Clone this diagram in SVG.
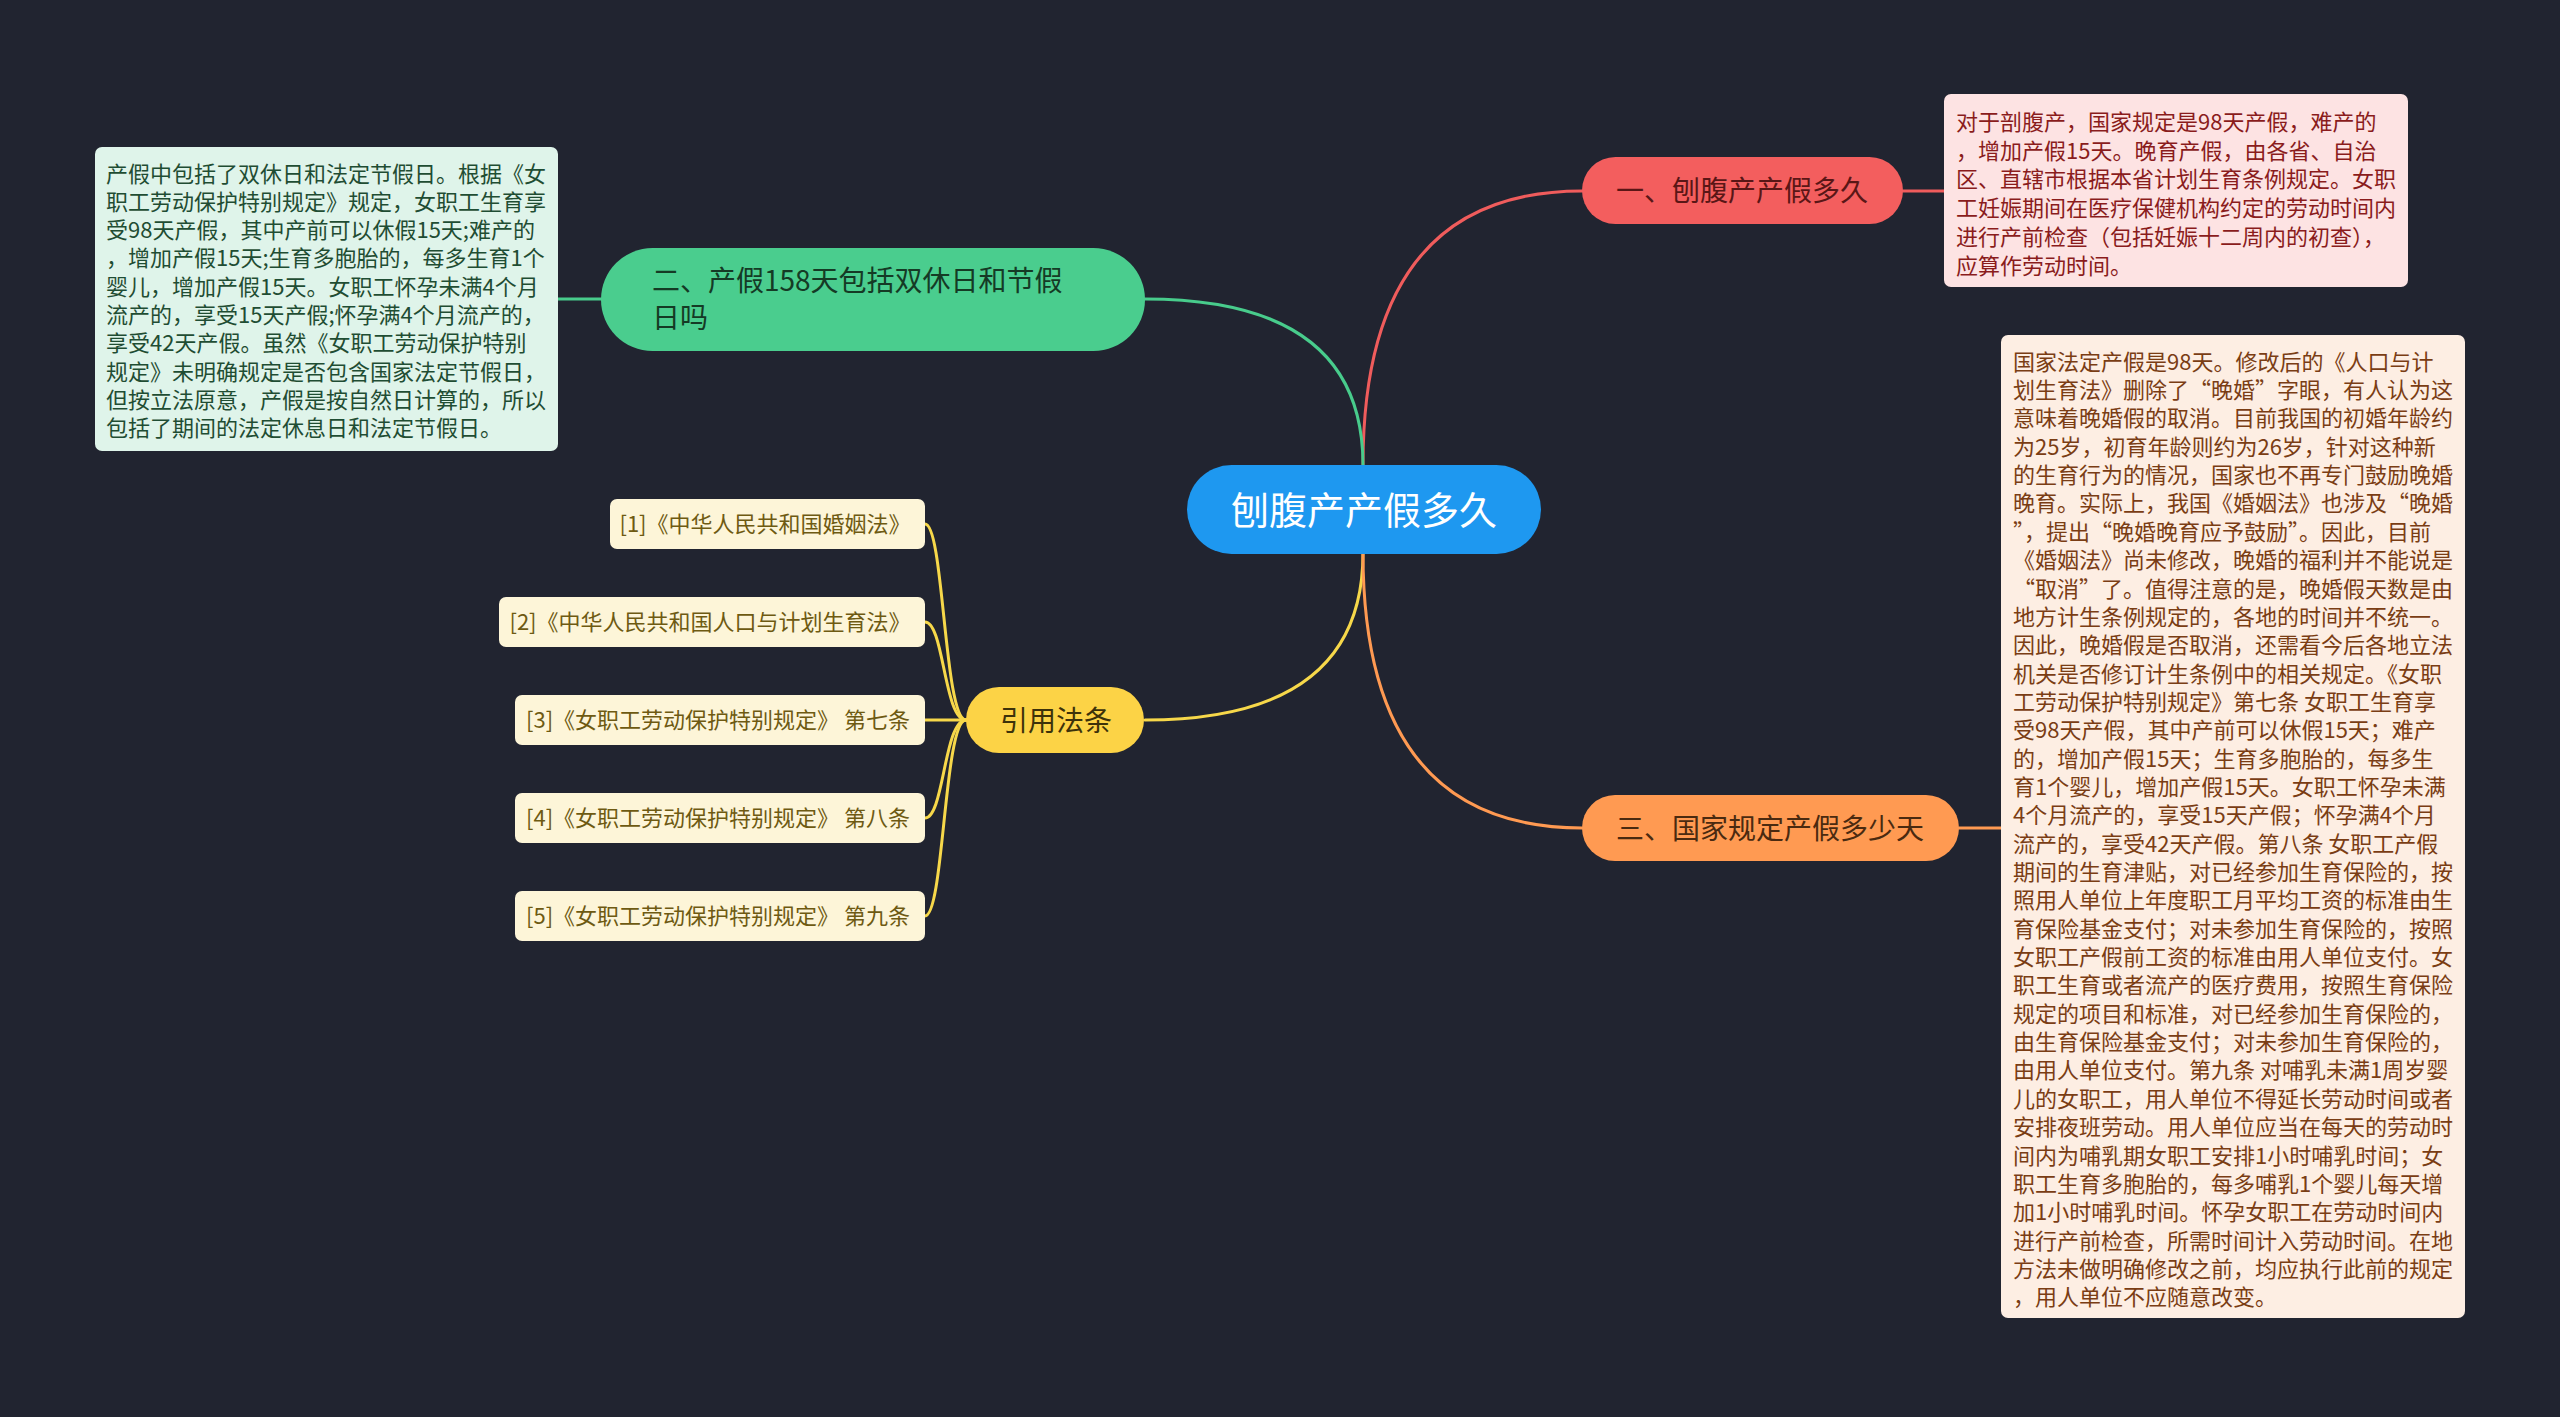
<svg xmlns="http://www.w3.org/2000/svg" width="2560" height="1417" viewBox="0 0 2560 1417">
<style>
text{font-family:"Noto Sans CJK SC","Noto Sans",sans-serif;}
.c{fill:none;stroke-width:3;stroke-linecap:round;}
.t22{font-size:22px;}
.t28{font-size:28px;}
.mid{text-anchor:middle;}
</style>
<rect width="2560" height="1417" fill="#212430"/>
<g id="connectors">
<path class="c" stroke="#f05c5c" d="M1363,465 Q1363,191 1582,191"/>
<path class="c" stroke="#48cc8c" d="M1363,465 Q1363,299 1145,299"/>
<path class="c" stroke="#f7d84a" d="M1363,553 Q1363,720 1145,720"/>
<path class="c" stroke="#ff9a52" d="M1363,553 Q1363,828 1582,828"/>
<path class="c" stroke="#f05c5c" d="M1903,191 L1944,191"/>
<path class="c" stroke="#48cc8c" d="M601,299 L558,299"/>
<path class="c" stroke="#ff9a52" d="M1959,828 L2001,828"/>
<path class="c" stroke="#f7d84a" d="M966,720 C944,720 944,524 925,524"/>
<path class="c" stroke="#f7d84a" d="M966,720 C944,720 944,622 925,622"/>
<path class="c" stroke="#f7d84a" d="M966,720 L925,720"/>
<path class="c" stroke="#f7d84a" d="M966,720 C944,720 944,818 925,818"/>
<path class="c" stroke="#f7d84a" d="M966,720 C944,720 944,916 925,916"/>
</g>
<g id="root">
<rect x="1187" y="465" width="354" height="89" rx="44.5" fill="#1e98f0"/>
<text x="1364" y="524" class="mid" font-size="38" fill="#ffffff">刨腹产产假多久</text>
</g>
<g id="n1">
<rect x="1582" y="157" width="321" height="67" rx="33.5" fill="#f35e5e"/>
<text x="1742" y="201" class="mid t28" fill="#5a1616">一、刨腹产产假多久</text>
</g>
<g id="n1d">
<rect x="1944" y="94" width="464" height="193" rx="7" fill="#fde3e3"/>
<g class="t22" fill="#8a1c1c">
<text x="1956" y="130">对于剖腹产，国家规定是98天产假，难产的</text>
<text x="1956" y="158.7">，增加产假15天。晚育产假，由各省、自治</text>
<text x="1956" y="187.4">区、直辖市根据本省计划生育条例规定。女职</text>
<text x="1956" y="216.1">工妊娠期间在医疗保健机构约定的劳动时间内</text>
<text x="1956" y="244.8">进行产前检查（包括妊娠十二周内的初查），</text>
<text x="1956" y="273.5">应算作劳动时间。</text>
</g>
</g>
<g id="n2">
<rect x="601" y="248" width="544" height="103" rx="51.5" fill="#4acd8e"/>
<g class="t28" fill="#153a25">
<text x="652" y="291">二、产假158天包括双休日和节假</text>
<text x="652" y="327.5">日吗</text>
</g>
</g>
<g id="n2d">
<rect x="95" y="147" width="463" height="304" rx="7" fill="#dff4ea"/>
<g class="t22" fill="#1f4d33">
<text x="106" y="181.5">产假中包括了双休日和法定节假日。根据《女</text>
<text x="106" y="209.8">职工劳动保护特别规定》规定，女职工生育享</text>
<text x="106" y="238.1">受98天产假，其中产前可以休假15天;难产的</text>
<text x="106" y="266.4">，增加产假15天;生育多胞胎的，每多生育1个</text>
<text x="106" y="294.7">婴儿，增加产假15天。女职工怀孕未满4个月</text>
<text x="106" y="323">流产的，享受15天产假;怀孕满4个月流产的，</text>
<text x="106" y="351.3">享受42天产假。虽然《女职工劳动保护特别</text>
<text x="106" y="379.6">规定》未明确规定是否包含国家法定节假日，</text>
<text x="106" y="407.9">但按立法原意，产假是按自然日计算的，所以</text>
<text x="106" y="436.2">包括了期间的法定休息日和法定节假日。</text>
</g>
</g>
<g id="n3">
<rect x="966" y="687" width="178" height="66" rx="33" fill="#fcd346"/>
<text x="1056" y="730.5" class="mid t28" fill="#3d320a">引用法条</text>
</g>
<g id="refs" class="t22" fill="#6e5a12">
<g id="r1"><rect x="610" y="499" width="315" height="50" rx="7" fill="#fdf5d8"/><text x="765" y="532" class="mid">[1]《中华人民共和国婚姻法》</text></g>
<g id="r2"><rect x="499" y="597" width="426" height="50" rx="7" fill="#fdf5d8"/><text x="710" y="630" class="mid">[2]《中华人民共和国人口与计划生育法》</text></g>
<g id="r3"><rect x="515" y="695" width="410" height="50" rx="7" fill="#fdf5d8"/><text x="718" y="728" class="mid">[3]《女职工劳动保护特别规定》 第七条</text></g>
<g id="r4"><rect x="515" y="793" width="410" height="50" rx="7" fill="#fdf5d8"/><text x="718" y="826" class="mid">[4]《女职工劳动保护特别规定》 第八条</text></g>
<g id="r5"><rect x="515" y="891" width="410" height="50" rx="7" fill="#fdf5d8"/><text x="718" y="924" class="mid">[5]《女职工劳动保护特别规定》 第九条</text></g>
</g>
<g id="n4">
<rect x="1582" y="795" width="377" height="66" rx="33" fill="#ff9a52"/>
<text x="1770" y="838.5" class="mid t28" fill="#4a2a10">三、国家规定产假多少天</text>
</g>
<g id="n4d">
<rect x="2001" y="335" width="464" height="983" rx="7" fill="#fdeee3"/>
<g class="t22" fill="#7a3d14">
<text x="2013" y="369.7">国家法定产假是98天。修改后的《人口与计</text>
<text x="2013" y="398.05">划生育法》删除了“晚婚”字眼，有人认为这</text>
<text x="2013" y="426.4">意味着晚婚假的取消。目前我国的初婚年龄约</text>
<text x="2013" y="454.75">为25岁，初育年龄则约为26岁，针对这种新</text>
<text x="2013" y="483.1">的生育行为的情况，国家也不再专门鼓励晚婚</text>
<text x="2013" y="511.45">晚育。实际上，我国《婚姻法》也涉及“晚婚</text>
<text x="2013" y="539.8">”，提出“晚婚晚育应予鼓励”。因此，目前</text>
<text x="2013" y="568.15">《婚姻法》尚未修改，晚婚的福利并不能说是</text>
<text x="2013" y="596.5">“取消”了。值得注意的是，晚婚假天数是由</text>
<text x="2013" y="624.85">地方计生条例规定的，各地的时间并不统一。</text>
<text x="2013" y="653.2">因此，晚婚假是否取消，还需看今后各地立法</text>
<text x="2013" y="681.55">机关是否修订计生条例中的相关规定。《女职</text>
<text x="2013" y="709.9">工劳动保护特别规定》第七条 女职工生育享</text>
<text x="2013" y="738.25">受98天产假，其中产前可以休假15天；难产</text>
<text x="2013" y="766.6">的，增加产假15天；生育多胞胎的，每多生</text>
<text x="2013" y="794.95">育1个婴儿，增加产假15天。女职工怀孕未满</text>
<text x="2013" y="823.3">4个月流产的，享受15天产假；怀孕满4个月</text>
<text x="2013" y="851.65">流产的，享受42天产假。第八条 女职工产假</text>
<text x="2013" y="880">期间的生育津贴，对已经参加生育保险的，按</text>
<text x="2013" y="908.35">照用人单位上年度职工月平均工资的标准由生</text>
<text x="2013" y="936.7">育保险基金支付；对未参加生育保险的，按照</text>
<text x="2013" y="965.05">女职工产假前工资的标准由用人单位支付。女</text>
<text x="2013" y="993.4">职工生育或者流产的医疗费用，按照生育保险</text>
<text x="2013" y="1021.75">规定的项目和标准，对已经参加生育保险的，</text>
<text x="2013" y="1050.1">由生育保险基金支付；对未参加生育保险的，</text>
<text x="2013" y="1078.45">由用人单位支付。第九条 对哺乳未满1周岁婴</text>
<text x="2013" y="1106.8">儿的女职工，用人单位不得延长劳动时间或者</text>
<text x="2013" y="1135.15">安排夜班劳动。用人单位应当在每天的劳动时</text>
<text x="2013" y="1163.5">间内为哺乳期女职工安排1小时哺乳时间；女</text>
<text x="2013" y="1191.85">职工生育多胞胎的，每多哺乳1个婴儿每天增</text>
<text x="2013" y="1220.2">加1小时哺乳时间。怀孕女职工在劳动时间内</text>
<text x="2013" y="1248.55">进行产前检查，所需时间计入劳动时间。在地</text>
<text x="2013" y="1276.9">方法未做明确修改之前，均应执行此前的规定</text>
<text x="2013" y="1305.25">，用人单位不应随意改变。</text>
</g>
</g>
</svg>
